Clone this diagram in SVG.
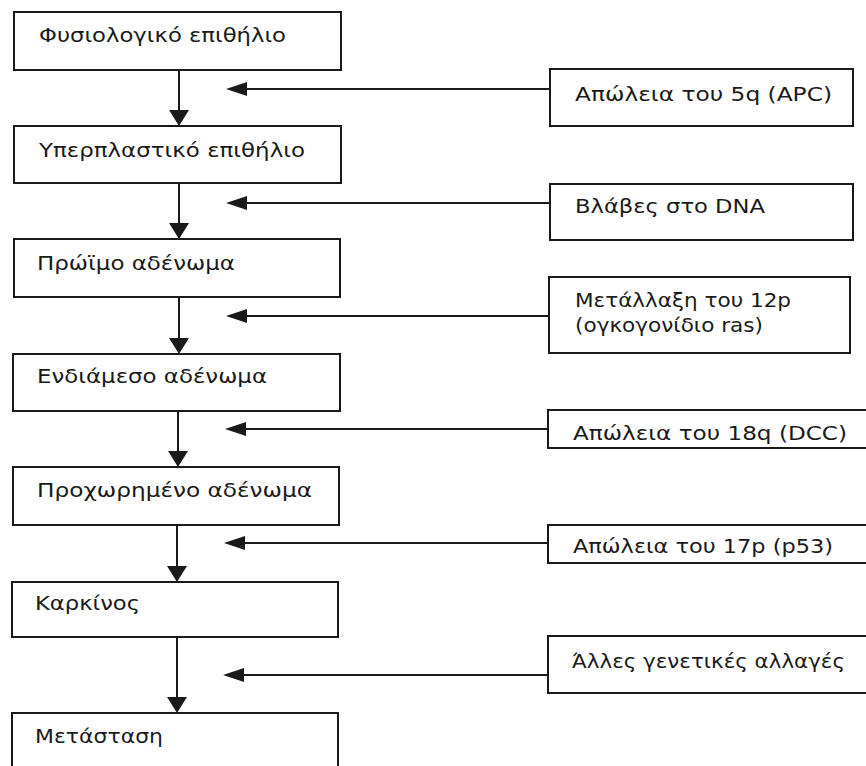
<svg xmlns="http://www.w3.org/2000/svg" width="866" height="766" viewBox="0 0 866 766">
<style>
.box{fill:#fff;stroke:#1a1a1a;stroke-width:2}
.ln{stroke:#1a1a1a;stroke-width:2;fill:none}
.ah{fill:#1a1a1a}
text{font-family:"DejaVu Sans","Liberation Sans",sans-serif;font-size:19px;fill:#1a1a1a}
</style>
<rect width="866" height="766" fill="#fff"/>
<g id="connectors">
<line class="ln" x1="179" y1="70" x2="179" y2="112"/><polygon class="ah" points="179,126 169,110 189,110"/>
<line class="ln" x1="179" y1="183" x2="179" y2="225"/><polygon class="ah" points="179,239 169,223 189,223"/>
<line class="ln" x1="179" y1="297" x2="179" y2="340"/><polygon class="ah" points="179,354 169,338 189,338"/>
<line class="ln" x1="178" y1="411" x2="178" y2="453"/><polygon class="ah" points="178,467 168,451 188,451"/>
<line class="ln" x1="177" y1="525" x2="177" y2="568"/><polygon class="ah" points="177,582 167,566 187,566"/>
<line class="ln" x1="177" y1="637" x2="177" y2="699"/><polygon class="ah" points="177,713 167,697 187,697"/>
<line class="ln" x1="245" y1="89" x2="550" y2="89"/><polygon class="ah" points="226,89 247,82 247,96"/>
<line class="ln" x1="245" y1="203" x2="550" y2="203"/><polygon class="ah" points="226,203 247,196 247,210"/>
<line class="ln" x1="245" y1="316" x2="549" y2="316"/><polygon class="ah" points="226,316 247,309 247,323"/>
<line class="ln" x1="245" y1="429" x2="548" y2="429"/><polygon class="ah" points="225,429 246,422 246,436"/>
<line class="ln" x1="244" y1="543" x2="548" y2="543"/><polygon class="ah" points="224,543 245,536 245,550"/>
<line class="ln" x1="244" y1="675" x2="548" y2="675"/><polygon class="ah" points="223,675 244,668 244,682"/>
</g>
<g id="n1"><rect class="box" x="14" y="12" width="327" height="58"/><text x="39" y="42" textLength="247" lengthAdjust="spacingAndGlyphs">Φυσιολογικό επιθήλιο</text></g>
<g id="n2"><rect class="box" x="14" y="126" width="327" height="57"/><text x="39" y="157" textLength="266" lengthAdjust="spacingAndGlyphs">Υπερπλαστικό επιθήλιο</text></g>
<g id="n3"><rect class="box" x="14" y="239" width="326" height="58"/><text x="37" y="270" textLength="198" lengthAdjust="spacingAndGlyphs">Πρώϊμο αδένωμα</text></g>
<g id="n4"><rect class="box" x="13" y="354" width="327" height="57"/><text x="37" y="383" textLength="230" lengthAdjust="spacingAndGlyphs">Ενδιάμεσο αδένωμα</text></g>
<g id="n5"><rect class="box" x="13" y="467" width="326" height="58"/><text x="37" y="497" textLength="275" lengthAdjust="spacingAndGlyphs">Προχωρημένο αδένωμα</text></g>
<g id="n6"><rect class="box" x="12" y="582" width="326" height="55"/><text x="35" y="610" textLength="105" lengthAdjust="spacingAndGlyphs">Καρκίνος</text></g>
<g id="n7"><rect class="box" x="12" y="713" width="326" height="60"/><text x="35" y="743" textLength="128" lengthAdjust="spacingAndGlyphs">Μετάσταση</text></g>
<g id="r1"><rect class="box" x="550" y="69" width="303" height="57"/><text x="575" y="101" textLength="257" lengthAdjust="spacingAndGlyphs">Απώλεια του 5q (APC)</text></g>
<g id="r2"><rect class="box" x="550" y="184" width="303" height="56"/><text x="575" y="213" textLength="190" lengthAdjust="spacingAndGlyphs">Βλάβες στο DNA</text></g>
<g id="r3"><rect class="box" x="549" y="277" width="301" height="76"/><text x="575" y="307" textLength="216" lengthAdjust="spacingAndGlyphs">Μετάλλαξη του 12p</text><text x="575" y="332" textLength="188" lengthAdjust="spacingAndGlyphs">(ογκογονίδιο ras)</text></g>
<g id="r4"><rect class="box" x="548" y="410" width="330" height="38"/><text x="573" y="440" textLength="274" lengthAdjust="spacingAndGlyphs">Απώλεια του 18q (DCC)</text></g>
<g id="r5"><rect class="box" x="548" y="525" width="330" height="38"/><text x="573" y="553" textLength="260" lengthAdjust="spacingAndGlyphs">Απώλεια του 17p (p53)</text></g>
<g id="r6"><rect class="box" x="548" y="636" width="330" height="57"/><text x="572" y="668" textLength="273" lengthAdjust="spacingAndGlyphs">Άλλες γενετικές αλλαγές</text></g>
</svg>
